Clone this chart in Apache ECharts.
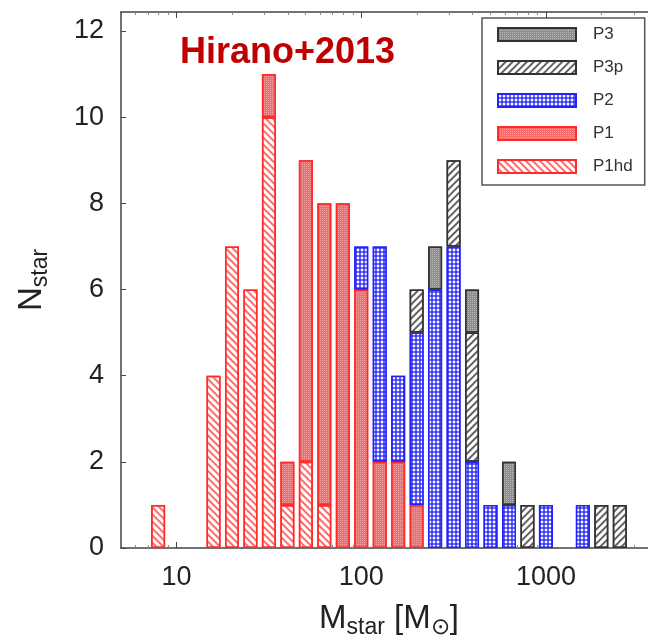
<!DOCTYPE html>
<html>
<head>
<meta charset="utf-8">
<script src="https://cdn.jsdelivr.net/npm/echarts@6/dist/echarts.min.js"></script>
<style>
html, body { margin: 0; padding: 0; background: #fff; }
#chart { width: 648px; height: 639px; }
</style>
</head>
<body>
<div id="chart"></div>
<script>
// bins are 0.1 dex wide, value = log10 of bin centre mass [Msun]
var binLogM = [0.9, 1.2, 1.3, 1.4, 1.5, 1.6, 1.7, 1.8, 1.9, 2.0, 2.1, 2.2, 2.3, 2.4, 2.5, 2.6, 2.7, 2.8, 2.9, 3.0, 3.2, 3.3, 3.4];
var p1hd = [1, 4, 7, 6, 10, 1, 2, 1, 0, 0, 0, 0, 0, 0, 0, 0, 0, 0, 0, 0, 0, 0, 0];
var p1   = [0, 0, 0, 0, 1, 1, 7, 7, 8, 6, 2, 2, 1, 0, 0, 0, 0, 0, 0, 0, 0, 0, 0];
var p2   = [0, 0, 0, 0, 0, 0, 0, 0, 0, 1, 5, 2, 4, 6, 7, 2, 1, 1, 0, 1, 1, 0, 0];
var p3p  = [0, 0, 0, 0, 0, 0, 0, 0, 0, 0, 0, 0, 1, 0, 2, 3, 0, 0, 1, 0, 0, 1, 1];
var p3   = [0, 0, 0, 0, 0, 0, 0, 0, 0, 0, 0, 0, 0, 1, 0, 1, 0, 1, 0, 0, 0, 0, 0];

var xMajorTicks = [10, 100, 1000];
var xMinorTicks = [6, 7, 8, 9, 20, 30, 40, 50, 60, 70, 80, 90, 200, 300, 400, 500, 600, 700, 800, 900, 2000, 3000, 4000];
var yTicks = [0, 2, 4, 6, 8, 10, 12];
var legendOrder = ['P3', 'P3p', 'P2', 'P1', 'P1hd'];

var FONT = 'Liberation Sans';
var AXIS = '#444';

function lg(v) { return Math.log(v) / Math.LN10; }

// [count, logM] : count first so the stack is done on the count dimension
// empty bins -> null so nothing is drawn there
function pairs(vals) {
    return binLogM.map(function (x, i) {
        return [vals[i] > 0 ? vals[i] : null, x];
    });
}

function lines(color, rot) {
    return { symbol: 'rect', symbolSize: 1, color: color, dashArrayX: [1, 0], dashArrayY: [2, 3], rotation: rot };
}
function dots(color) {
    return { symbol: 'rect', symbolSize: 1, color: color, dashArrayX: [1, 1], dashArrayY: [1, 1] };
}

function barSeries(name, vals, style) {
    return {
        name: name,
        type: 'bar',
        stack: 'all',
        barWidth: 14,
        encode: { x: 1, y: 0 },
        data: pairs(vals),
        itemStyle: style,
        emphasis: { disabled: true }
    };
}

var myChart = echarts.init(document.getElementById('chart'));

var xMin = lg(5), xMax = lg(5000);

var option = {
    animation: false,
    backgroundColor: '#fff',
    title: {
        text: 'Hirano+2013',
        left: 180,
        top: 35,
        padding: 0,
        textStyle: { fontFamily: FONT, fontSize: 36, fontWeight: 'bold', color: '#c00000' }
    },
    legend: {
        data: legendOrder,
        orient: 'vertical',
        left: 482,
        top: 18,
        padding: [8, 12, 10, 15],
        itemWidth: 78,
        itemHeight: 13,
        itemGap: 16,
        icon: 'rect',
        borderColor: '#555',
        borderWidth: 1.5,
        backgroundColor: '#fff',
        selectedMode: false,
        textStyle: { fontFamily: FONT, fontSize: 17, color: '#333', lineHeight: 13, padding: [0, 0, 0, 12] }
    },
    grid: { left: 121, right: -27, top: 12, bottom: 91, containLabel: false, outerBoundsMode: 'none' },
    xAxis: [
        {
            type: 'value',
            min: xMin,
            max: xMax,
            position: 'bottom',
            axisLine: { onZero: false, lineStyle: { color: AXIS, width: 1.5 } },
            axisTick: { inside: true, length: 6, customValues: xMajorTicks.map(lg), lineStyle: { color: AXIS } },
            splitLine: { show: false },
            axisLabel: {
                customValues: xMajorTicks.map(lg),
                margin: 16,
                fontFamily: FONT,
                fontSize: 27,
                color: '#222',
                formatter: function (v) { return String(Math.round(Math.pow(10, v))); }
            },
            name: '{m|M}{s|star}{m| [M}{s|\u2299}{m|]}',
            nameLocation: 'middle',
            nameGap: 51,
            nameTextStyle: {
                padding: [0, 18, 0, 0],
                rich: {
                    m: { fontFamily: FONT, fontSize: 33, color: '#222', lineHeight: 40 },
                    s: { fontFamily: FONT, fontSize: 23, color: '#222', lineHeight: 20, verticalAlign: 'bottom' }
                }
            }
        },
        {
            type: 'value',
            min: xMin,
            max: xMax,
            position: 'top',
            axisLine: { onZero: false, lineStyle: { color: AXIS, width: 1.5 } },
            axisTick: { inside: true, length: 6, customValues: xMajorTicks.map(lg), lineStyle: { color: AXIS } },
            splitLine: { show: false },
            axisLabel: { show: false }
        },
        {
            type: 'value',
            min: xMin,
            max: xMax,
            position: 'top',
            axisLine: { show: false, onZero: false },
            axisTick: { inside: true, length: 3, customValues: xMinorTicks.map(lg), lineStyle: { color: '#888' } },
            splitLine: { show: false },
            axisLabel: { show: false }
        },
        {
            type: 'value',
            min: xMin,
            max: xMax,
            position: 'bottom',
            axisLine: { show: false, onZero: false },
            axisTick: { inside: true, length: 3, customValues: xMinorTicks.map(lg), lineStyle: { color: '#888' } },
            splitLine: { show: false },
            axisLabel: { show: false }
        }
    ],
    yAxis: {
        type: 'value',
        min: 0,
        max: 12.44,
        axisLine: { show: true, onZero: false, lineStyle: { color: AXIS, width: 1.5 } },
        axisTick: { inside: true, length: 5, customValues: yTicks, lineStyle: { color: AXIS } },
        splitLine: { show: false },
        axisLabel: { customValues: yTicks, margin: 17, fontFamily: FONT, fontSize: 27, color: '#222' },
        name: '{n|N}{s|star}',
        nameLocation: 'middle',
        nameRotate: 90,
        nameGap: 69,
        nameTextStyle: {
            rich: {
                n: { fontFamily: FONT, fontSize: 33, color: '#222', lineHeight: 40 },
                s: { fontFamily: FONT, fontSize: 23, color: '#222', lineHeight: 20, verticalAlign: 'bottom' }
            }
        }
    },
    series: [
        barSeries('P1hd', p1hd, { color: '#ffffff', borderColor: '#ff2a2a', borderWidth: 1.5, decal: lines('rgba(255,70,70,0.8)', Math.PI / 4) }),
        barSeries('P1', p1, { color: '#f66a6a', borderColor: '#ff2a2a', borderWidth: 1.5, decal: dots('rgba(255,255,255,0.35)') }),
        barSeries('P2', p2, {
            color: '#3a3af0', borderColor: '#2222ff', borderWidth: 1.5,
            decal: { symbol: 'diamond', symbolSize: 0.85, color: '#ffffff', dashArrayX: [[4, 0]], dashArrayY: [4, 0] }
        }),
        barSeries('P3p', p3p, { color: '#ffffff', borderColor: '#333', borderWidth: 1.5, decal: lines('rgba(70,70,70,0.85)', -Math.PI / 4) }),
        barSeries('P3', p3, { color: '#8c8c8c', borderColor: '#333', borderWidth: 1.5, decal: dots('rgba(255,255,255,0.4)') })
    ]
};

myChart.setOption(option);
</script>
</body>
</html>
